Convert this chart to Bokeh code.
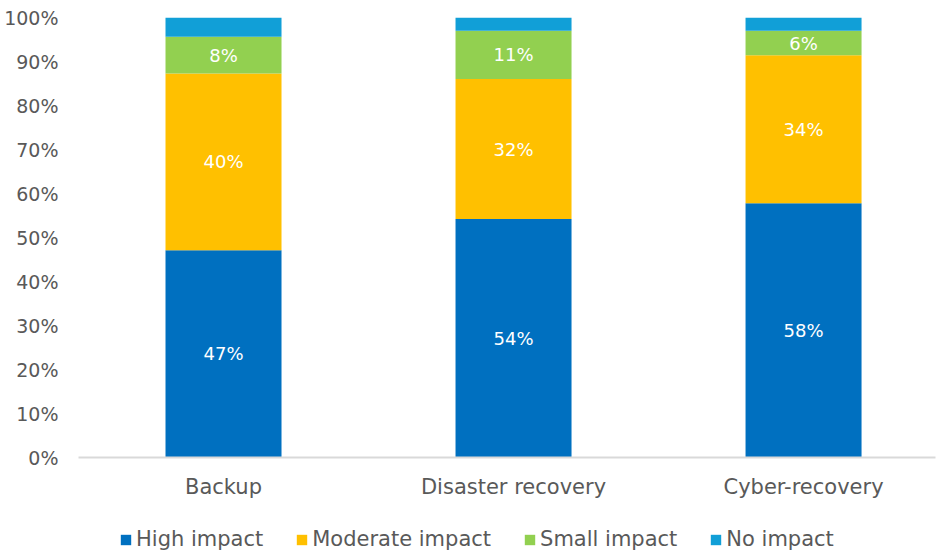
from bokeh.plotting import figure
from bokeh.layouts import column
from bokeh.models import (ColumnDataSource, LabelSet, Legend, LegendItem,
                          FixedTicker, Range1d)
from bokeh.core.properties import value
from bokeh.embed import file_html
from bokeh.resources import INLINE

categories = ["Backup", "Disaster recovery", "Cyber-recovery"]
series = ["High impact", "Moderate impact", "Small impact", "No impact"]
high = [47.1, 54.2, 57.8]
moderate = [40.2, 31.8, 33.6]
small = [8.3, 11.0, 5.6]
no_impact = [4.4, 3.0, 3.0]
y_ticks = [0, 10, 20, 30, 40, 50, 60, 70, 80, 90, 100]

colors = ["#0070C0", "#FFC000", "#92D050", "#119FD7"]
keys = ["high", "moderate", "small", "no"]
FONT = "DejaVu Sans"
GRAY = "#595959"

x = list(range(len(categories)))
source = ColumnDataSource(dict(x=x, high=high, moderate=moderate, small=small, no=no_impact))

p = figure(width=938, height=512, output_backend="svg", toolbar_location=None,
           x_range=Range1d(-0.5, 2.455), y_range=Range1d(0, 100),
           min_border_left=78, min_border_right=3, min_border_top=17,
           min_border_bottom=55)
p.outline_line_color = None
p.xgrid.grid_line_color = None
p.ygrid.grid_line_color = None

p.vbar_stack(keys, x="x", width=0.4, color=colors, line_color=None, source=source)

# data labels (not for "No impact")
label_vals = [high, moderate, small]
bottoms = [0.0] * len(categories)
for vals in label_vals:
    ys = [b + v / 2 for b, v in zip(bottoms, vals)]
    txt = [f"{round(v)}%" for v in vals]
    ls = ColumnDataSource(dict(x=x, y=ys, t=txt))
    p.add_layout(LabelSet(x="x", y="y", text="t", source=ls, text_color="white",
                          text_font=value(FONT), text_font_size="18px",
                          text_align="center", text_baseline="middle"))
    bottoms = [b + v for b, v in zip(bottoms, vals)]

# y axis
p.yaxis.ticker = FixedTicker(ticks=y_ticks)
p.yaxis.major_label_overrides = {t: f"{t}%" for t in y_ticks}
p.yaxis.axis_line_color = None
p.yaxis.major_tick_line_color = None
p.yaxis.major_tick_out = 0
p.yaxis.major_tick_in = 0
p.yaxis.minor_tick_line_color = None
p.yaxis.major_label_text_font = FONT
p.yaxis.major_label_text_font_size = "19px"
p.yaxis.major_label_text_color = GRAY
p.yaxis.major_label_standoff = 20

# x axis
p.xaxis.ticker = FixedTicker(ticks=x)
p.xaxis.major_label_overrides = {i: c for i, c in enumerate(categories)}
p.xaxis.axis_line_color = "#D9D9D9"
p.xaxis.axis_line_width = 2
p.xaxis.major_tick_line_color = None
p.xaxis.major_tick_out = 0
p.xaxis.major_tick_in = 0
p.xaxis.minor_tick_line_color = None
p.xaxis.major_label_text_font = FONT
p.xaxis.major_label_text_font_size = "21px"
p.xaxis.major_label_text_color = GRAY
p.xaxis.major_label_standoff = 17

# legend row: a separate strip whose (hidden) bars only feed the legend
lg = figure(width=938, height=40, output_backend="svg", toolbar_location=None,
            x_range=Range1d(-0.5, 2.5), y_range=Range1d(0, 100),
            min_border=0)
lg.axis.visible = False
lg.grid.visible = False
lg.outline_line_color = None
lrs = lg.vbar_stack(keys, x="x", width=0.4, color=colors, line_color=None, source=source)
for r in lrs:
    r.visible = False
legend = Legend(items=[LegendItem(label=s, renderers=[r]) for s, r in zip(series, lrs)],
                orientation="horizontal", location=(41, 1),
                label_text_font=FONT, label_text_font_size="21px",
                label_text_color=GRAY, glyph_width=13, glyph_height=13,
                label_standoff=4, spacing=32, border_line_color=None,
                background_fill_alpha=0, padding=0, margin=0,
                inactive_fill_alpha=0)
lg.add_layout(legend, "center")

layout = column(p, lg, spacing=0)
open("out.html", "w").write(file_html(layout, INLINE))
